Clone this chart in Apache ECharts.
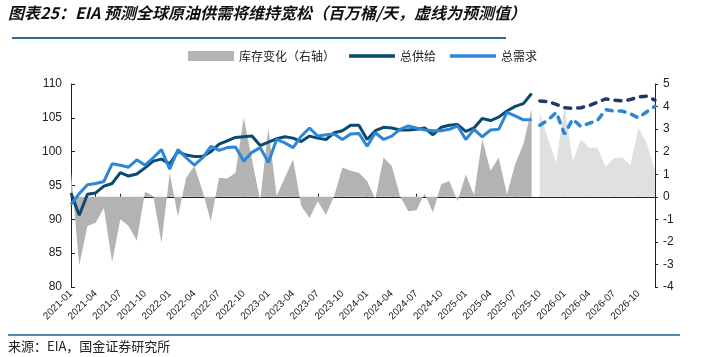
<!DOCTYPE html>
<html>
<head>
<meta charset="utf-8">
<script src="https://cdn.jsdelivr.net/npm/echarts@6/dist/echarts.min.js"></script>
<style>
html,body{margin:0;padding:0;background:#fff;}
#c{width:704px;height:357px;}
</style>
</head>
<body>
<div id="c"></div>
<script>
const months = [
'2021-01','2021-02','2021-03','2021-04','2021-05','2021-06','2021-07','2021-08','2021-09','2021-10','2021-11','2021-12',
'2022-01','2022-02','2022-03','2022-04','2022-05','2022-06','2022-07','2022-08','2022-09','2022-10','2022-11','2022-12',
'2023-01','2023-02','2023-03','2023-04','2023-05','2023-06','2023-07','2023-08','2023-09','2023-10','2023-11','2023-12',
'2024-01','2024-02','2024-03','2024-04','2024-05','2024-06','2024-07','2024-08','2024-09','2024-10','2024-11','2024-12',
'2025-01','2025-02','2025-03','2025-04','2025-05','2025-06','2025-07','2025-08','2025-09','2025-10','2025-11','2025-12',
'2026-01','2026-02','2026-03','2026-04','2026-05','2026-06','2026-07','2026-08','2026-09','2026-10','2026-11','2026-12'
];
const leftTicks = [80, 85, 90, 95, 100, 105, 110];
const rightTicks = [-4, -3, -2, -1, 0, 1, 2, 3, 4, 5];

// History: 2021-01 .. 2025-09
const supplyHist = [93.9,90.6,93.7,93.9,94.9,95.3,96.9,96.4,96.7,97.6,98.6,98.9,
  98.2,100.0,99.5,99.3,99.3,100.0,101.1,101.6,102.1,102.2,102.3,100.9,
  101.4,101.9,102.2,102.0,101.5,102.3,102.0,101.8,102.8,103.1,103.9,103.9,
  101.8,103.1,103.6,103.5,103.2,103.2,103.3,103.5,102.5,103.6,103.9,104.0,
  103.0,103.5,104.9,104.6,105.1,106.0,106.7,107.1,108.6];
const demandHist = [92.2,93.8,95.1,95.3,95.6,98.2,98.0,97.7,98.8,98.0,99.1,100.3,
  97.4,100.3,99.1,98.0,99.1,100.8,100.2,100.6,100.7,98.6,99.9,100.6,
  98.4,101.8,101.3,100.6,102.3,103.5,102.3,102.5,102.6,101.8,102.6,102.7,
  100.8,102.8,101.8,102.3,103.3,103.8,103.5,103.2,103.1,103.1,103.3,103.8,
  101.8,103.3,102.2,103.2,103.3,105.8,105.3,104.7,104.7];
const stockHist = [1.1,-3.05,-1.3,-1.15,-0.5,-2.9,-1.0,-1.3,-1.95,0.22,0.04,-2.05,
  1.05,-0.87,0.84,1.36,0.25,-1.08,0.84,0.81,1.07,3.5,1.65,-0.15,
  3.05,0.03,0.84,1.66,-0.42,-0.94,-0.2,-0.8,0.03,1.3,1.15,1.07,
  0.7,-0.1,1.74,1.37,0.03,-0.64,-0.6,0.15,-0.7,0.55,0.7,-0.2,
  1.0,0.07,2.56,1.15,1.74,0.1,1.44,2.34,3.9];
// Forecast: 2025-10 .. 2026-12
const supplyFcst = [107.5,107.4,107.0,106.5,106.4,106.5,106.8,107.3,107.8,107.6,107.5,107.7,108.1,108.2,107.6];
const demandFcst = [103.9,104.7,105.8,102.6,104.8,103.7,104.2,104.6,106.2,106.0,106.0,105.6,105.0,105.9,106.7];
const stockFcst = [3.7,2.56,1.52,4.05,1.56,2.56,2.16,2.19,1.32,1.71,1.74,1.41,3.05,2.37,1.15];

const nH = supplyHist.length;
function histPad(a){ return months.map((m,i)=> i < nH ? a[i] : null); }
function fcstPad(a){ return months.map((m,i)=> i >= nH ? a[i-nH] : null); }

const chart = echarts.init(document.getElementById('c'), null, {renderer:'canvas'});
const axisFont = {fontFamily:'Liberation Sans, Arial, sans-serif', color:'#222'};
const lineIcon = 'path://M0,0 H42 V3.2 H0 Z';
const option = {
  animation:false,
  backgroundColor:'#fff',
  grid:{left:71, right:49, top:84, bottom:70},
  legend:{
    left:183, top:45, itemWidth:46, itemHeight:10, itemGap:14,
    textStyle:{fontSize:12, color:'#222', fontFamily:'Noto Sans CJK SC'},
    data:[
      {name:'库存变化（右轴）', icon:'rect', itemStyle:{color:'#b3b3b3'}},
      {name:'总供给', icon:lineIcon, itemStyle:{color:'#0b4a70'}},
      {name:'总需求', icon:lineIcon, itemStyle:{color:'#2e86d8'}}
    ]
  },
  graphic:[
    {type:'text', left:8, top:5, style:{text:'图表25：EIA 预测全球原油供需将维持宽松（百万桶/天，虚线为预测值）',
      font:'italic bold 16px "Noto Sans CJK SC"', fill:'#111'}},
    {type:'rect', shape:{x:12, y:37, width:494, height:2}, style:{fill:'#2d6a98'}},
    {type:'rect', shape:{x:8, y:334, width:672, height:2}, style:{fill:'#5a88a8'}},
    {type:'text', left:8, top:340, style:{text:'来源：EIA，国金证券研究所', font:'13px "Noto Sans CJK SC"', fill:'#222'}}
  ],
  xAxis:{
    type:'category', data:months, boundaryGap:false,
    axisLine:{lineStyle:{color:'#222', width:1}},
    axisTick:{inside:true, interval:2, length:3, lineStyle:{color:'#222'}},
    axisLabel:Object.assign({interval:2, rotate:45, fontSize:10, margin:5}, axisFont),
    splitLine:{show:false}
  },
  yAxis:[
    {type:'value', min:leftTicks[0], max:leftTicks[leftTicks.length-1], interval:5, position:'left',
      axisLine:{show:true, lineStyle:{color:'#222'}},
      axisTick:{show:true, inside:true, length:4, lineStyle:{color:'#222'}},
      axisLabel:Object.assign({fontSize:12, margin:9}, axisFont),
      splitLine:{show:false}},
    {type:'value', min:rightTicks[0], max:rightTicks[rightTicks.length-1], interval:1, position:'right',
      axisLine:{show:true, lineStyle:{color:'#222'}},
      axisTick:{show:true, inside:false, length:3, lineStyle:{color:'#222'}},
      axisLabel:Object.assign({fontSize:12, margin:8}, axisFont),
      splitLine:{show:false}}
  ],
  series:[
    {name:'库存变化（右轴）', type:'line', yAxisIndex:1, data:histPad(stockHist), symbol:'none',
      itemStyle:{color:'#b3b3b3'}, lineStyle:{width:0}, areaStyle:{color:'#b3b3b3', opacity:1}, z:1},
    {name:'库存变化预测', type:'line', yAxisIndex:1, data:fcstPad(stockFcst), symbol:'none',
      itemStyle:{color:'#e0e0e0'}, lineStyle:{width:0}, areaStyle:{color:'#e0e0e0', opacity:1}, z:1},
    {name:'总供给', type:'line', yAxisIndex:0, data:histPad(supplyHist), symbol:'none',
      itemStyle:{color:'#0b4a70'}, lineStyle:{color:'#0b4a70', width:3}, z:3},
    {name:'总需求', type:'line', yAxisIndex:0, data:histPad(demandHist), symbol:'none',
      itemStyle:{color:'#2e86d8'}, lineStyle:{color:'#2e86d8', width:3}, z:4},
    {name:'总供给预测', type:'line', yAxisIndex:0, data:fcstPad(supplyFcst), symbol:'none',
      itemStyle:{color:'#1f3a68'}, lineStyle:{color:'#1f3a68', width:3.5, type:[6,7], cap:'round'}, z:3},
    {name:'总需求预测', type:'line', yAxisIndex:0, data:fcstPad(demandFcst), symbol:'none',
      itemStyle:{color:'#2e86d8'}, lineStyle:{color:'#2e86d8', width:3.5, type:[6,7], cap:'round'}, z:4}
  ]
};
chart.setOption(option);
</script>
</body>
</html>
